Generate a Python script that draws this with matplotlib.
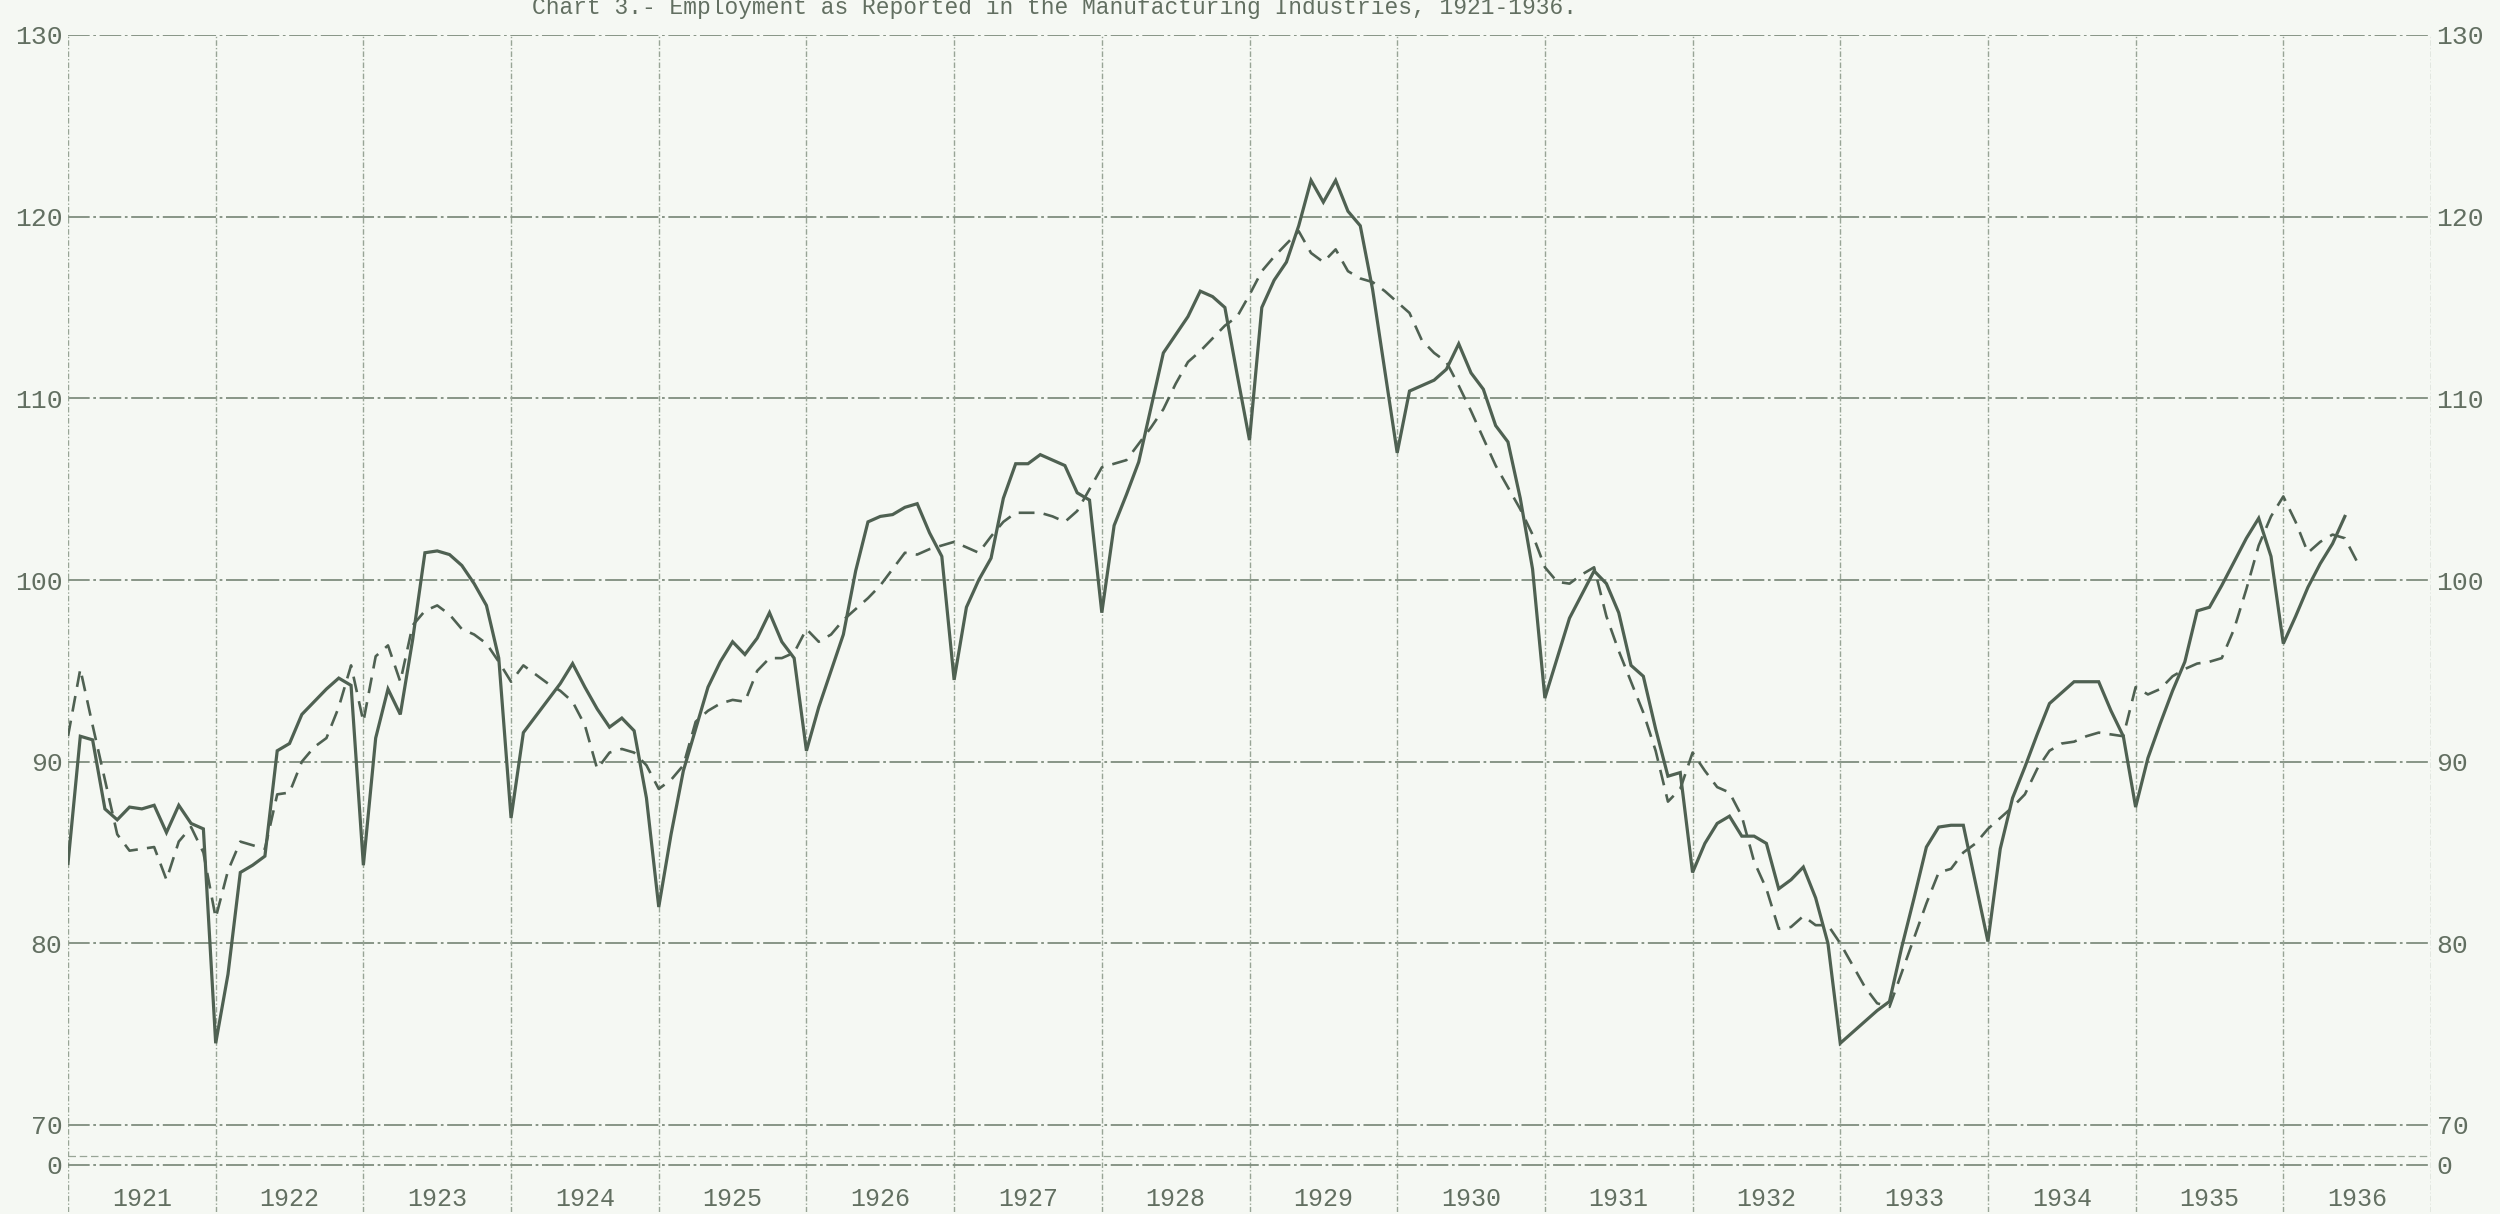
import numpy as np
import matplotlib.pyplot as plt

# ----- data (monthly) -----
years = list(range(1921, 1937))
ytick_values = [70, 80, 90, 100, 110, 120, 130]

# solid line, Jan 1921 - Jun 1936
solid = [
    84.4, 91.4, 91.2, 87.4, 86.8, 87.5, 87.4, 87.6, 86.1, 87.6, 86.6, 86.3,        # 1921
    74.5, 78.3, 83.9, 84.3, 84.8, 90.6, 91.0, 92.6, 93.3, 94.0, 94.6, 94.2,        # 1922
    84.3, 91.3, 94.0, 92.6, 96.7, 101.5, 101.6, 101.4, 100.8, 99.8, 98.6, 95.7,    # 1923
    86.9, 91.6, 92.5, 93.4, 94.3, 95.4, 94.1, 92.9, 91.9, 92.4, 91.7, 88.0,        # 1924
    82.0, 86.0, 89.5, 91.8, 94.1, 95.5, 96.6, 95.9, 96.8, 98.2, 96.6, 95.7,        # 1925
    90.6, 93.0, 95.0, 97.0, 100.5, 103.2, 103.5, 103.6, 104.0, 104.2, 102.6, 101.3,  # 1926
    94.5, 98.5, 100.0, 101.2, 104.5, 106.4, 106.4, 106.9, 106.6, 106.3, 104.8, 104.4,  # 1927
    98.2, 103.0, 104.7, 106.5, 109.5, 112.5, 113.5, 114.5, 115.9, 115.6, 115.0, 111.3,  # 1928
    107.7, 115.0, 116.5, 117.5, 119.5, 122.0, 120.8, 122.0, 120.3, 119.5, 116.0, 111.5,  # 1929
    107.0, 110.4, 110.7, 111.0, 111.6, 113.0, 111.4, 110.5, 108.5, 107.6, 104.5, 100.6,  # 1930
    93.5, 95.7, 97.9, 99.2, 100.5, 99.8, 98.2, 95.3, 94.7, 91.8, 89.2, 89.4,       # 1931
    83.9, 85.5, 86.6, 87.0, 85.9, 85.9, 85.5, 83.0, 83.5, 84.2, 82.5, 80.0,        # 1932
    74.5, 75.1, 75.7, 76.3, 76.8, 79.8, 82.5, 85.3, 86.4, 86.5, 86.5, 83.3,        # 1933
    80.1, 85.2, 88.0, 89.7, 91.5, 93.2, 93.8, 94.4, 94.4, 94.4, 92.8, 91.4,        # 1934
    87.5, 90.2, 92.1, 93.9, 95.5, 98.3, 98.5, 99.7, 101.0, 102.3, 103.4, 101.3,    # 1935
    96.5, 98.0, 99.6, 100.9, 102.0, 103.5,                                          # 1936
]

# dashed line, Jan 1921 - Jul 1936
dashed = [
    91.4, 95.1, 92.0, 89.0, 86.0, 85.1, 85.2, 85.3, 83.5, 85.6, 86.4, 85.0,        # 1921
    81.4, 84.0, 85.6, 85.4, 85.2, 88.2, 88.3, 90.0, 90.8, 91.3, 93.0, 95.3,        # 1922
    92.2, 95.8, 96.4, 94.4, 97.5, 98.3, 98.6, 98.1, 97.3, 97.0, 96.5, 95.5,        # 1923
    94.4, 95.3, 94.8, 94.3, 93.9, 93.3, 92.0, 89.6, 90.5, 90.7, 90.5, 89.8,        # 1924
    88.5, 89.0, 89.8, 92.2, 92.8, 93.2, 93.4, 93.3, 95.0, 95.7, 95.7, 96.0,        # 1925
    97.3, 96.6, 97.0, 97.8, 98.4, 99.0, 99.7, 100.6, 101.5, 101.4, 101.7, 101.9,   # 1926
    102.1, 101.8, 101.5, 102.4, 103.2, 103.7, 103.7, 103.7, 103.5, 103.2, 103.8, 105.0,  # 1927
    106.2, 106.4, 106.6, 107.5, 108.4, 109.4, 110.8, 112.0, 112.6, 113.3, 114.0, 114.5,  # 1928
    115.7, 117.0, 117.8, 118.5, 119.2, 118.0, 117.5, 118.2, 117.0, 116.6, 116.4, 115.9,  # 1929
    115.3, 114.7, 113.2, 112.5, 112.0, 110.7, 109.3, 107.8, 106.3, 105.1, 103.9, 102.5,  # 1930
    100.7, 99.9, 99.8, 100.3, 100.7, 98.0, 96.1, 94.4, 92.7, 90.6, 87.8, 88.5,     # 1931
    90.5, 89.5, 88.6, 88.3, 87.0, 84.5, 83.0, 80.8, 80.9, 81.5, 81.0, 81.0,        # 1932
    80.0, 78.8, 77.6, 76.7, 76.5, 78.4, 80.3, 82.2, 83.9, 84.1, 85.0, 85.5,        # 1933
    86.3, 86.9, 87.5, 88.2, 89.6, 90.6, 91.0, 91.1, 91.4, 91.6, 91.5, 91.4,        # 1934
    94.1, 93.7, 94.0, 94.7, 95.1, 95.4, 95.5, 95.7, 97.3, 99.5, 101.9, 103.5,      # 1935
    104.6, 103.2, 101.5, 102.1, 102.5, 102.3, 101.0,                                # 1936
]

title = "Chart 3.- Employment as Reported in the Manufacturing Industries, 1921-1936."

# ----- style -----
paper = '#f5f8f3'
ink = '#4f6152'
grid_h = '#7f8d7e'
grid_v = '#98a596'
text_c = '#626f61'
mono = ['Liberation Mono', 'DejaVu Sans Mono']

W, H = 2500, 1214
top_px, bot_px = 35, 1212          # 130 at top_px
px70 = 1125
per_px = 60.0 / (px70 - top_px)
ybottom = 70 - (bot_px - px70) * per_px
zero_y = 70 - (1165 - px70) * per_px
zero_y2 = 70 - (1156 - px70) * per_px
label_y = 70 - (1199 - px70) * per_px

fig = plt.figure(figsize=(W / 100, H / 100), dpi=100)
fig.patch.set_facecolor(paper)
ax = fig.add_axes([68 / W, 1 - bot_px / H, (2431 - 68) / W, (bot_px - top_px) / H])
ax.set_facecolor(paper)
ax.set_xlim(years[0], years[-1] + 1)
ax.set_ylim(ybottom, 130)

# grid
for v in ytick_values:
    ax.axhline(v, color=grid_h, lw=1.3, ls=(0, (12, 2, 1.5, 2)), zorder=1)
for yr in years + [years[-1] + 1]:
    ax.axvline(yr, color=grid_v, lw=1.0, ls=(0, (4, 1.5, 1, 1.5)), zorder=1)
ax.axhline(zero_y, color=grid_h, lw=1.3, ls=(0, (12, 2, 1.5, 2)), zorder=1)
ax.axhline(zero_y2, color=grid_v, lw=0.9, ls=(0, (6, 3)), zorder=1)

# series
t_solid = years[0] + np.arange(len(solid)) / 12
t_dashed = years[0] + np.arange(len(dashed)) / 12
ax.plot(t_dashed, dashed, color=ink, lw=1.9, ls=(0, (6, 3.5)), zorder=3)
ax.plot(t_solid, solid, color=ink, lw=2.3, zorder=4, solid_joinstyle='miter')

# axes text
ax.set_yticks(ytick_values + [zero_y])
ax.set_yticklabels([str(v) for v in ytick_values] + ['0'])
ax.set_xticks([])
ax.tick_params(axis='y', length=0, pad=4, labelsize=19, labelcolor=text_c,
               labelright=True)
for lab in ax.get_yticklabels():
    lab.set_family(mono)
for s in ax.spines.values():
    s.set_visible(False)

for yr in years:
    ax.text(yr + 0.5, label_y, str(yr), ha='center', va='center',
            fontsize=18, color=text_c, family=mono)

fig.text(0.422, 1 - 14 / H, title, ha='center', va='baseline',
         fontsize=16.5, color=text_c, family=mono)

fig.savefig('out.png', dpi=100, facecolor=paper)
